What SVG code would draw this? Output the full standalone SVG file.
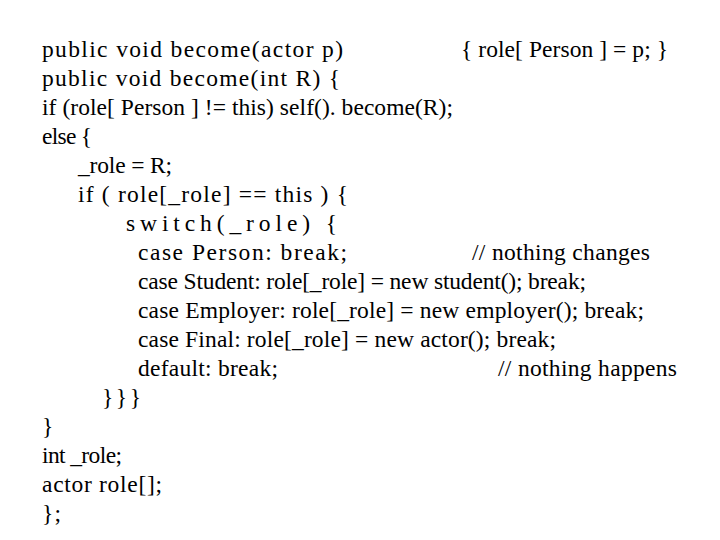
<svg xmlns="http://www.w3.org/2000/svg" width="720" height="540" viewBox="0 0 720 540">
<style>text{font-family:"Liberation Serif","Times New Roman",serif;font-size:23.5px;fill:#000}</style>
<rect width="720" height="540" fill="#fff"/>
<text x="42" y="57" textLength="301">public void become(actor p)</text>
<text x="461" y="57" textLength="207">{ role[ Person ] = p; }</text>
<text x="42" y="86" textLength="298">public void become(int R) {</text>
<text x="42" y="115" textLength="411">if (role[ Person ] != this) self(). become(R);</text>
<text x="42" y="144" textLength="50">else {</text>
<text x="78" y="173" textLength="94">_role = R;</text>
<text x="78" y="202" textLength="270">if ( role[_role] == this ) {</text>
<text x="126" y="231" textLength="211">switch(_role) {</text>
<text x="138" y="260" textLength="209">case Person: break;</text>
<text x="472" y="260" textLength="178">// nothing changes</text>
<text x="138" y="289" textLength="448">case Student: role[_role] = new student(); break;</text>
<text x="138" y="318" textLength="506">case Employer: role[_role] = new employer(); break;</text>
<text x="138" y="347" textLength="418">case Final: role[_role] = new actor(); break;</text>
<text x="138" y="376" textLength="140">default: break;</text>
<text x="498" y="376" textLength="179">// nothing happens</text>
<text x="102" y="405" textLength="39">}}}</text>
<text x="42" y="434">}</text>
<text x="42" y="463" textLength="80">int _role;</text>
<text x="42" y="492" textLength="120">actor role[];</text>
<text x="42" y="521" textLength="19">};</text>
</svg>
